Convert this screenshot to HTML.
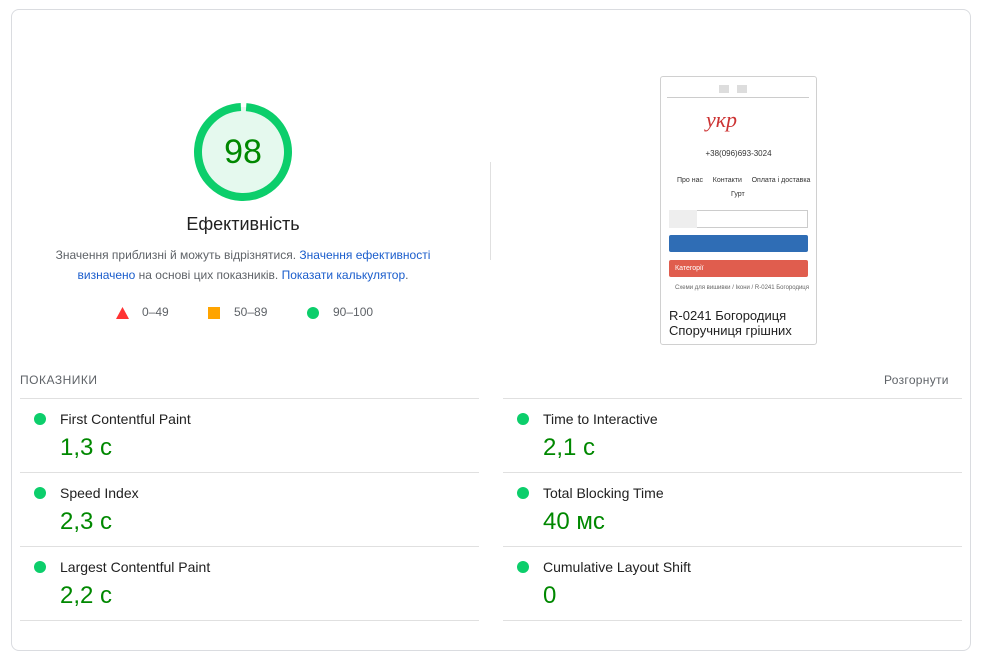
<!DOCTYPE html><html><head><meta charset="utf-8"><style>
body{margin:0;width:981px;height:626px;background:#fff;font-family:"Liberation Sans",sans-serif;position:relative;overflow:hidden}
.a{position:absolute;white-space:nowrap}
.card{position:absolute;left:11px;top:9px;width:958px;height:640px;border:1px solid #dadce0;border-radius:8px}
.hr{position:absolute;height:1px;background:#e0e0e0}
.dot{position:absolute;width:12px;height:12px;border-radius:50%;background:#0cce6b}
.m{font-size:14px;color:#212121}
.v{font-size:24px;color:#008800}
a{color:#1a5dcc;text-decoration:none}
</style></head><body>
<div class="card"></div>
<svg class="a" style="left:190px;top:99px" width="106" height="106">
<circle cx="53" cy="53" r="45" fill="#e5f9ee"/>
<circle cx="53" cy="53" r="45" fill="none" stroke="#0cce6b" stroke-width="8" stroke-dasharray="277 300" transform="rotate(-86 53 53)"/>
</svg>
<div class="a" style="left:190px;top:133px;width:106px;text-align:center;font-size:34px;color:#008800">98</div>
<div class="a" style="left:143px;top:214px;width:200px;text-align:center;font-size:18px;color:#212121">Ефективність</div>
<div class="a" style="left:48px;top:245px;width:390px;text-align:center;font-size:12px;color:#5f6368;line-height:20px;white-space:normal">Значення приблизні й можуть відрізнятися. <a>Значення ефективності визначено</a> на основі цих показників. <a>Показати калькулятор</a>.</div>
<svg class="a" style="left:116px;top:307px" width="13" height="12"><polygon points="6.5,0 13,12 0,12" fill="#f33"/></svg>
<div class="a" style="left:142px;top:305px;font-size:12px;color:#5f6368">0–49</div>
<div class="a" style="left:208px;top:307px;width:12px;height:12px;background:#ffa400"></div>
<div class="a" style="left:234px;top:305px;font-size:12px;color:#5f6368">50–89</div>
<div class="dot" style="left:307px;top:307px"></div>
<div class="a" style="left:333px;top:305px;font-size:12px;color:#5f6368">90–100</div>
<div class="a" style="left:490px;top:162px;width:1px;height:98px;background:#e0e0e0"></div>
<div class="a" style="left:660px;top:76px;width:155px;height:267px;border:1px solid #d0d0d0;border-radius:3px;overflow:hidden;font-size:7px;color:#333">
 <div class="a" style="left:58px;top:8px;width:10px;height:8px;background:#ddd"></div>
 <div class="a" style="left:76px;top:8px;width:10px;height:8px;background:#ddd"></div>
 <div class="a" style="left:6px;top:20px;width:142px;height:1px;background:#ccc"></div>
 <div class="a" style="left:45px;top:30px;font-family:'Liberation Serif',serif;font-size:22px;color:#c33;font-style:italic">укр</div>
 <div class="a" style="left:0;top:72px;width:155px;text-align:center;font-size:8px">+38(096)693-3024</div>
 <div class="a" style="left:16px;top:100px">Про нас &nbsp;&nbsp;&nbsp; Контакти &nbsp;&nbsp;&nbsp; Оплата і доставка</div>
 <div class="a" style="left:70px;top:114px">Гурт</div>
 <div class="a" style="left:8px;top:133px;width:137px;height:16px;border:1px solid #ccc;background:#fff"></div>
 <div class="a" style="left:8px;top:133px;width:28px;height:18px;background:#eee"></div>
 <div class="a" style="left:8px;top:158px;width:139px;height:17px;background:#2f6db5;border-radius:2px"></div>
 <div class="a" style="left:8px;top:183px;width:139px;height:17px;background:#e05d4e;border-radius:2px;color:#fff;line-height:17px;padding-left:6px;box-sizing:border-box">Категорії</div>
 <div class="a" style="left:14px;top:208px;font-size:6px;color:#666">Схеми для вишивки / Ікони / R-0241 Богородиця</div>
 <div class="a" style="left:8px;top:231px;font-size:13px;color:#222;line-height:15px">R-0241 Богородиця<br>Споручниця грішних</div>
</div>
<div class="a" style="left:20px;top:373px;font-size:12px;color:#5f6368;letter-spacing:.5px">ПОКАЗНИКИ</div>
<div class="a" style="left:884px;top:373px;font-size:12px;color:#5f6368;letter-spacing:.3px">Розгорнути</div>
<div class="hr" style="left:20px;top:398px;width:459px"></div><div class="hr" style="left:503px;top:398px;width:459px"></div>
<div class="hr" style="left:20px;top:472px;width:459px"></div><div class="hr" style="left:503px;top:472px;width:459px"></div>
<div class="hr" style="left:20px;top:546px;width:459px"></div><div class="hr" style="left:503px;top:546px;width:459px"></div>
<div class="hr" style="left:20px;top:620px;width:459px"></div><div class="hr" style="left:503px;top:620px;width:459px"></div>
<div class="dot" style="left:34px;top:413px"></div><div class="a m" style="left:60px;top:411px">First Contentful Paint</div><div class="a v" style="left:60px;top:434px">1,3 с</div>
<div class="dot" style="left:34px;top:487px"></div><div class="a m" style="left:60px;top:485px">Speed Index</div><div class="a v" style="left:60px;top:508px">2,3 с</div>
<div class="dot" style="left:34px;top:561px"></div><div class="a m" style="left:60px;top:559px">Largest Contentful Paint</div><div class="a v" style="left:60px;top:582px">2,2 с</div>
<div class="dot" style="left:517px;top:413px"></div><div class="a m" style="left:543px;top:411px">Time to Interactive</div><div class="a v" style="left:543px;top:434px">2,1 с</div>
<div class="dot" style="left:517px;top:487px"></div><div class="a m" style="left:543px;top:485px">Total Blocking Time</div><div class="a v" style="left:543px;top:508px">40 мс</div>
<div class="dot" style="left:517px;top:561px"></div><div class="a m" style="left:543px;top:559px">Cumulative Layout Shift</div><div class="a v" style="left:543px;top:582px">0</div>
</body></html>
